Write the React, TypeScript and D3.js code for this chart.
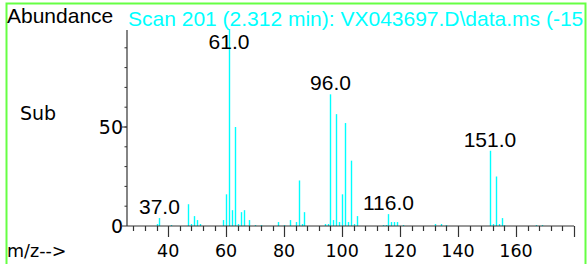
import React from "react";
import * as d3 from "d3";

// m/z values and abundances
const mzValues = [
  36, 37, 41, 47, 48, 49, 50, 51, 59, 60, 61, 62, 63, 64, 65, 66, 68, 70, 72,
  78, 80, 82, 84, 85, 86, 87, 94, 95, 96, 97, 98, 99, 100, 101, 102, 103, 104,
  105, 114, 115, 116, 117, 118, 119, 121, 132, 134, 136, 151, 152, 153, 154,
  155, 156, 167, 169,
];
const abundances = [
  1, 4, 0.5, 11, 1, 5, 3, 1, 3, 16, 99.5, 8, 50, 1, 7, 8, 3, 0.5, 0.5,
  2, 0.5, 3, 2, 23, 1, 7, 1, 1, 66.5, 3, 56.5, 2, 16, 52, 2, 33, 1,
  5, 0.5, 0.5, 6, 2, 2, 2, 0.5, 1, 1, 0.5, 38, 1, 25, 1,
  4, 0.5, 0.5, 0.5,
];
const labelledPeaks = [37, 61, 96, 116, 151];
const xTickLabels = [40, 60, 80, 100, 120, 140, 160];
const yTickLabels = [0, 50];

const title = "Scan 201 (2.312 min): VX043697.D\\data.ms (-15";

const W = 588;
const H = 264;

export default function App() {
  // scales
  const x = d3.scaleLinear().domain([25.8, 180]).range([127, 574]);
  const y = d3.scaleLinear().domain([0, 100]).range([226, 28]);

  const peaks = mzValues.map((mz, i) => ({ mz, v: abundances[i] }));
  const minorX = d3.range(28, 181, 4);
  const minorY = d3.range(10, 100, 10);

  const sans = "'Liberation Sans', Arial, sans-serif";
  const dv = "'DejaVu Sans', Verdana, sans-serif";
  const axisColor = "#333";
  const cyan = "#00ffff";

  return (
    <svg
      width={W}
      height={H}
      style={{ position: "absolute", left: 0, top: 0, background: "#fff" }}
    >
      <defs>
        <clipPath id="frame">
          <rect x={6} y={3} width={580} height={H} />
        </clipPath>
      </defs>

      {/* frame */}
      <path
        d={`M6.5,${H} V3.5 H585.5 V${H}`}
        fill="none"
        stroke="#66ff44"
        strokeWidth={2}
      />

      <g clipPath="url(#frame)">
        <text x={7} y={22.5} fontFamily={sans} fontSize={21} fill="#000">
          Abundance
        </text>
        <text x={128} y={25.5} fontFamily={sans} fontSize={21} fill={cyan}>
          {title}
        </text>
      </g>

      <text x={20} y={119.5} fontFamily={dv} fontSize={19} fill="#000">
        Sub
      </text>
      <text x={7} y={257} fontFamily={dv} fontSize={17.5} fill="#000">
        m/z--&gt;
      </text>

      {/* peaks */}
      {peaks.map((p) => (
        <line
          key={p.mz}
          x1={Math.round(x(p.mz)) + 0.5}
          x2={Math.round(x(p.mz)) + 0.5}
          y1={y(0)}
          y2={y(p.v)}
          stroke={cyan}
          strokeWidth={1.4}
        />
      ))}

      {/* y axis */}
      <line x1={127} x2={127} y1={y(0)} y2={30} stroke={axisColor} strokeWidth={1.2} />
      {minorY.map((t) => (
        <line key={t} x1={124.5} x2={127} y1={y(t)} y2={y(t)} stroke={axisColor} />
      ))}
      {yTickLabels.map((t) => (
        <g key={t}>
          <line x1={122} x2={127} y1={y(t)} y2={y(t)} stroke={axisColor} />
          <text
            x={123}
            y={y(t) + 7}
            textAnchor="end"
            fontFamily={dv}
            fontSize={19}
            fill="#000"
          >
            {t}
          </text>
        </g>
      ))}

      {/* x axis */}
      <line x1={127} x2={x(180)} y1={y(0)} y2={y(0)} stroke={axisColor} strokeWidth={1.2} />
      {minorX.map((t) => (
        <line
          key={t}
          x1={Math.round(x(t)) + 0.5}
          x2={Math.round(x(t)) + 0.5}
          y1={y(0)}
          y2={t % 20 === 0 ? y(0) + 11 : y(0) + 5}
          stroke={axisColor}
          strokeWidth={1.2}
        />
      ))}
      {xTickLabels.map((t) => (
        <text
          key={t}
          x={x(t)}
          y={257}
          textAnchor="middle"
          fontFamily={dv}
          fontSize={17.5}
          fill="#000"
        >
          {t}
        </text>
      ))}

      {/* peak labels */}
      {labelledPeaks.map((mz) => {
        const v = abundances[mzValues.indexOf(mz)];
        return (
          <text
            key={mz}
            x={x(mz)}
            y={Math.max(y(v) - 4, 49)}
            textAnchor="middle"
            fontFamily={sans}
            fontSize={21}
            fill="#000"
          >
            {mz.toFixed(1)}
          </text>
        );
      })}
    </svg>
  );
}
